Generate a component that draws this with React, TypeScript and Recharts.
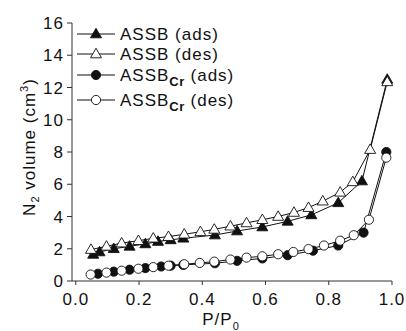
import React from 'react';
import { Line, LineChart, XAxis, YAxis } from 'recharts';

// Isotherm readings.
const assbAdsP = [0.055, 0.075, 0.12, 0.17, 0.22, 0.26, 0.3, 0.34, 0.44, 0.51, 0.59, 0.67, 0.745, 0.83, 0.905, 0.985];
const assbAdsV = [1.65, 1.8, 2.0, 2.15, 2.3, 2.45, 2.55, 2.65, 2.85, 3.1, 3.35, 3.7, 4.1, 4.85, 6.2, 12.5];

const assbDesP = [0.048, 0.097, 0.145, 0.198, 0.245, 0.293, 0.343, 0.394, 0.438, 0.489, 0.54, 0.59, 0.64, 0.69, 0.736, 0.781, 0.836, 0.876, 0.931, 0.985];
const assbDesV = [1.95, 2.15, 2.35, 2.5, 2.65, 2.75, 2.9, 3.05, 3.2, 3.4, 3.6, 3.8, 4.0, 4.25, 4.55, 4.95, 5.5, 6.15, 8.15, 12.35];

const crAdsP = [0.07, 0.12, 0.17, 0.22, 0.27, 0.3, 0.34, 0.44, 0.51, 0.59, 0.67, 0.75, 0.83, 0.91, 0.982];
const crAdsV = [0.45, 0.58, 0.7, 0.8, 0.9, 0.95, 1.0, 1.1, 1.25, 1.4, 1.6, 1.88, 2.2, 3.0, 8.0];

const crDesP = [0.047, 0.097, 0.145, 0.198, 0.245, 0.293, 0.343, 0.392, 0.438, 0.489, 0.54, 0.59, 0.64, 0.688, 0.736, 0.785, 0.836, 0.879, 0.927, 0.982];
const crDesV = [0.4, 0.52, 0.64, 0.76, 0.86, 0.95, 1.04, 1.12, 1.2, 1.33, 1.45, 1.53, 1.66, 1.8, 1.98, 2.2, 2.5, 2.84, 3.8, 7.65];

const xTicks = [0, 0.2, 0.4, 0.6, 0.8, 1.0];
const yTicks = [0, 2, 4, 6, 8, 10, 12, 14, 16];

const zip = (p: number[], v: number[]) => p.map((x, i) => ({ x, y: v[i] }));

const ink = '#111';
const axisInk = '#333';
const font = 'Liberation Sans, Arial, sans-serif';

type Shape = 'tri' | 'circle';

const series = [
  { key: 'assbAds', data: zip(assbAdsP, assbAdsV), shape: 'tri' as Shape, filled: true, name: 'ASSB (ads)', sub: false },
  { key: 'assbDes', data: zip(assbDesP, assbDesV), shape: 'tri' as Shape, filled: false, name: 'ASSB (des)', sub: false },
  { key: 'crAds', data: zip(crAdsP, crAdsV), shape: 'circle' as Shape, filled: true, name: '(ads)', sub: true },
  { key: 'crDes', data: zip(crDesP, crDesV), shape: 'circle' as Shape, filled: false, name: '(des)', sub: true },
];

function Marker({ cx, cy, shape, filled }: { cx: number; cy: number; shape: Shape; filled: boolean }) {
  const fill = filled ? ink : '#fff';
  if (shape === 'tri') {
    const h = 9.5;
    const w = 11;
    const pts = `${cx},${cy - h * 0.6} ${cx - w / 2},${cy + h * 0.4} ${cx + w / 2},${cy + h * 0.4}`;
    return <polygon points={pts} fill={fill} stroke={ink} strokeWidth={0.9} />;
  }
  return <circle cx={cx} cy={cy} r={4.6} fill={fill} stroke={ink} strokeWidth={0.9} />;
}

function makeDot(shape: Shape, filled: boolean) {
  return (props: any) => {
    const { cx, cy, index } = props;
    if (cx == null || cy == null) return <g key={index} />;
    return (
      <g key={index}>
        <Marker cx={cx} cy={cy} shape={shape} filled={filled} />
      </g>
    );
  };
}

function LegendBox() {
  const rows = [34, 54, 75, 100];
  return (
    <svg
      width={200}
      height={110}
      style={{ position: 'absolute', left: 77, top: 0, overflow: 'visible', pointerEvents: 'none' }}
    >
      {series.map((s, i) => {
        const y = rows[i];
        return (
          <g key={s.key}>
            <line x1={0} x2={38} y1={y} y2={y} stroke={ink} strokeWidth={1} />
            <Marker cx={19} cy={y} shape={s.shape} filled={s.filled} />
            <text x={43} y={y + 6} fontSize={17} letterSpacing={1} fill={ink} fontFamily={font}>
              {s.sub ? (
                <>
                  ASSB
                  <tspan dy={5} fontSize={13} fontWeight="bold" letterSpacing={0.5}>Cr</tspan>
                  <tspan dy={-5}> {s.name}</tspan>
                </>
              ) : (
                s.name
              )}
            </text>
          </g>
        );
      })}
    </svg>
  );
}

function YLabel() {
  return (
    <text
      transform="translate(35,147) rotate(-90)"
      textAnchor="middle"
      fontSize={17}
      letterSpacing={1}
      fill={ink}
      fontFamily={font}
    >
      N
      <tspan dy={4} fontSize={11}>2</tspan>
      <tspan dy={-4}> volume (cm</tspan>
      <tspan dy={-7} fontSize={11}>3</tspan>
      <tspan dy={7}>)</tspan>
    </text>
  );
}

function XLabel() {
  return (
    <text x={221} y={325} textAnchor="middle" fontSize={17} letterSpacing={1} fill={ink} fontFamily={font}>
      P/P
      <tspan dy={5} fontSize={11}>0</tspan>
    </text>
  );
}

const tickStyle = { fill: ink, fontSize: 17, fontFamily: font, letterSpacing: 1 };

export default function App() {
  return (
    <div style={{ position: 'absolute', left: 0, top: 0, width: 406, height: 331, background: '#fff' }}>
      <LineChart width={406} height={331} margin={{ top: 23, right: 14, bottom: 0, left: 0 }}>
        <XAxis
          dataKey="x"
          type="number"
          domain={[-0.012, 1]}
          ticks={xTicks}
          tickFormatter={(v: number) => v.toFixed(1)}
          tick={tickStyle}
          tickSize={4}
          tickMargin={8}
          stroke={axisInk}
          allowDuplicatedCategory={false}
          height={50}
          label={<XLabel />}
        />
        <YAxis
          type="number"
          domain={[0, 16]}
          ticks={yTicks}
          tick={tickStyle}
          tickSize={5}
          tickMargin={3}
          stroke={axisInk}
          width={72}
          label={<YLabel />}
        />
        {series.map((s) => (
          <Line
            key={s.key}
            data={s.data}
            dataKey="y"
            name={s.name}
            type="linear"
            stroke={ink}
            strokeWidth={1}
            dot={makeDot(s.shape, s.filled)}
            activeDot={false}
            isAnimationActive={false}
          />
        ))}
      </LineChart>
      <LegendBox />
    </div>
  );
}
